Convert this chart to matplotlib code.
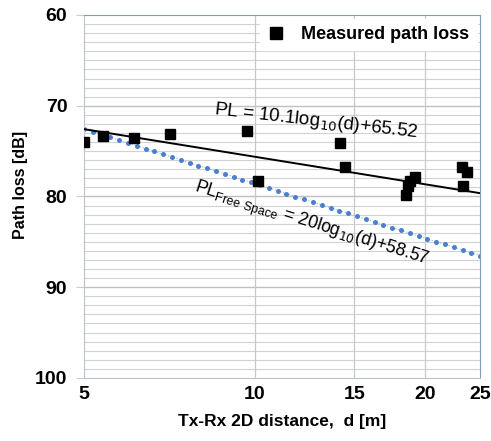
import numpy as np
import matplotlib
matplotlib.use("Agg")
import matplotlib.pyplot as plt
from matplotlib.ticker import FixedLocator, FixedFormatter, NullLocator

plt.rcParams['font.family'] = ['Liberation Sans', 'DejaVu Sans']

# measured samples
dist_m = [5.0, 5.40, 6.13, 7.09, 9.70, 10.14, 14.17, 14.46, 18.53, 18.67, 18.8, 19.2, 23.2, 23.7, 23.3]
pl_db = [74.0, 73.3, 73.55, 73.1, 72.8, 78.3, 74.1, 76.75, 79.8, 78.8, 78.3, 77.85, 76.75, 77.3, 78.8]

# fitted / free space models (coefficients from the chart)
fit_slope, fit_icpt = 10.1, 65.52
fs_slope, fs_icpt = 20.0, 58.57

x_ticks = [5, 10, 15, 20, 25]
y_ticks = [60, 70, 80, 90, 100]

W, H = 491, 441
fig = plt.figure(figsize=(W / 100, H / 100), dpi=100)
ax = fig.add_axes([0.171, 0.143, 0.807, 0.823])

ax.set_xscale('log')
ax.set_xlim(5, 25)
ax.set_ylim(100, 60)

# grid
for y in range(61, 100):
    if y % 10:
        ax.axhline(y, color='#d2d2d2', lw=0.8, zorder=0)
for y in [70, 80, 90]:
    ax.axhline(y, color='#c0c0c0', lw=1.0, zorder=0)
for x in [10, 15, 20]:
    ax.axvline(x, color='#c8c8c8', lw=0.9, zorder=0)

d_line = np.geomspace(5, 25, 200)
ax.plot(d_line, fit_slope * np.log10(d_line) + fit_icpt, color='black', lw=1.4, zorder=3)

d_fs = np.geomspace(5, 25, 46)
ax.plot(d_fs, fs_slope * np.log10(d_fs) + fs_icpt, color='#9bb8e0', lw=0.8, ls=':', zorder=2)
ax.plot(d_fs, fs_slope * np.log10(d_fs) + fs_icpt, ls='none', marker='o', ms=3.6,
        color='#4a80d0', mec='none', zorder=2)

ax.plot(dist_m, pl_db, ls='none', marker='s', ms=7, color='black',
        label='Measured path loss', zorder=4)

# equation labels, placed in pixel coordinates (origin bottom-left)
ax.text(316, H - 121, 'PL = 10.1log$_{10}$(d)+65.52', transform=None, fontsize=13.5,
        rotation=-6.5, ha='center', va='center')
ax.text(311, H - 225, 'PL$_{\\mathregular{Free\\ Space}}$ = 20log$_{10}$(d)+58.57', fontsize=12.8,
        rotation=-17.5, ha='center', va='center', transform=None)

ax.xaxis.set_major_locator(FixedLocator(x_ticks))
ax.xaxis.set_major_formatter(FixedFormatter([str(t) for t in x_ticks]))
ax.xaxis.set_minor_locator(NullLocator())
ax.set_yticks(y_ticks)
ax.yaxis.set_minor_locator(NullLocator())
ax.tick_params(axis='x', length=0, pad=6, labelsize=14)
ax.tick_params(axis='y', length=6, color='#cccccc', pad=6, labelsize=14)
for lab in ax.get_xticklabels() + ax.get_yticklabels():
    lab.set_fontweight('bold')

ax.set_xlabel('Tx-Rx 2D distance,  d [m]', fontsize=12.5, fontweight='bold', labelpad=8)
ax.set_ylabel('Path loss [dB]', fontsize=11.5, fontweight='bold')
ax.yaxis.set_label_coords(-0.14, 0.532)

for s in ['top', 'right']:
    ax.spines[s].set_color('#7f9cc0')
for s in ['left', 'bottom']:
    ax.spines[s].set_color('#b7c4d4')

leg = ax.legend(loc='upper right', frameon=True, fancybox=False, framealpha=1,
                edgecolor='white', prop={'weight': 'bold', 'size': 13},
                handletextpad=0.9, borderaxespad=0.2, handlelength=1.0, markerscale=1.3)

fig.savefig('out.png', dpi=100)
